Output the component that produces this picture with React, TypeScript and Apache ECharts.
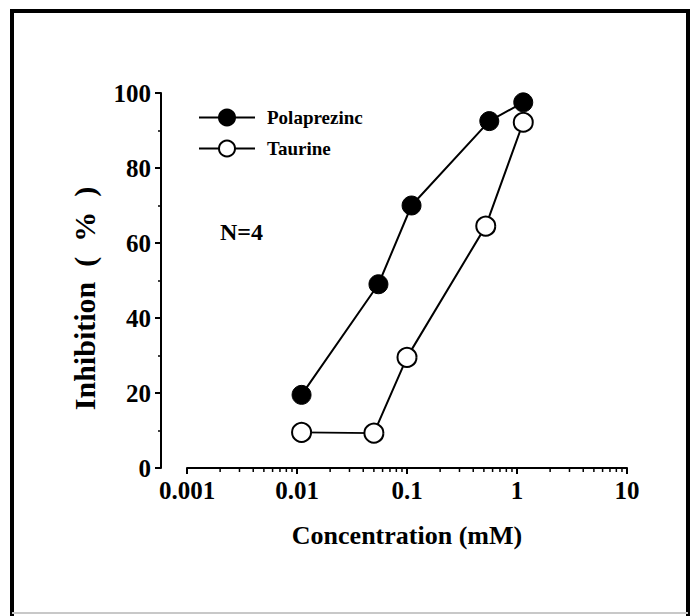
import React, { useEffect, useRef } from "react";
import * as echarts from "echarts";

const polaprezincConc = [0.011, 0.055, 0.11, 0.56, 1.14];
const polaprezincInhibition = [19.5, 49, 70, 92.5, 97.5];
const taurineConc = [0.011, 0.05, 0.1, 0.52, 1.14];
const taurineInhibition = [9.5, 9.3, 29.5, 64.5, 92.2];
const xTickLabels = ["0.001", "0.01", "0.1", "1", "10"];
const decades = [0.001, 0.01, 0.1, 1];
const minorMultipliers = [2, 3, 4, 5, 6, 7, 8, 9];

const FONT = "'Liberation Serif', 'Times New Roman', serif";

export default function App() {
  const ref = useRef<HTMLDivElement>(null);
  useEffect(() => {
    if (!ref.current) return;
    const chart = echarts.init(ref.current, undefined, { renderer: "svg" });
    const minorTicks: number[][] = [];
    decades.forEach((d) => minorMultipliers.forEach((m) => minorTicks.push([d * m, 0])));
    chart.setOption({
      animation: false,
      backgroundColor: "#fff",
      grid: { left: 187, right: 66, top: 93, bottom: 148 },
      legend: {
        orient: "vertical",
        left: 193,
        top: 103,
        itemWidth: 56,
        itemHeight: 20,
        itemGap: 12,
        data: ["Polaprezinc", "Taurine"],
        textStyle: { fontFamily: FONT, fontWeight: "bold", fontSize: 19, color: "#000", padding: [5, 0, 0, 7] },
      },
      xAxis: {
        type: "log",
        logBase: 10,
        min: 0.001,
        max: 10,
        interval: 1,
        name: "Concentration (mM)",
        nameLocation: "middle",
        nameGap: 54,
        nameTextStyle: { fontFamily: FONT, fontWeight: "bold", fontSize: 26, color: "#000" },
        axisLine: { show: true, lineStyle: { color: "#000", width: 2 } },
        axisTick: { show: true, inside: false, length: 6, lineStyle: { color: "#000", width: 2 } },
        axisLabel: {
          margin: 10,
          fontFamily: FONT,
          fontWeight: "bold",
          fontSize: 25,
          color: "#000",
          formatter: (v: number) => xTickLabels[Math.round(Math.log10(v)) + 3],
        },
        splitLine: { show: false },
        minorTick: { show: false },
      },
      yAxis: {
        type: "value",
        min: 0,
        max: 100,
        interval: 20,
        offset: 26,
        name: "Inhibition  (  %  )",
        nameLocation: "middle",
        nameGap: 62,
        nameRotate: 90,
        nameTextStyle: { fontFamily: FONT, fontWeight: "bold", fontSize: 30, color: "#000", padding: [0, 36, 0, 0] },
        axisLine: { show: true, lineStyle: { color: "#000", width: 2 } },
        axisTick: { show: true, inside: false, length: 6, lineStyle: { color: "#000", width: 2 } },
        minorTick: { show: true, splitNumber: 2, length: 3, lineStyle: { color: "#000", width: 1.5 } },
        axisLabel: { margin: 10, fontFamily: FONT, fontWeight: "bold", fontSize: 25, color: "#000" },
        splitLine: { show: false },
      },
      series: [
        {
          name: "Polaprezinc",
          type: "line",
          data: polaprezincConc.map((c, i) => [c, polaprezincInhibition[i]]),
          symbol: "circle",
          symbolSize: 19,
          lineStyle: { color: "#000", width: 2 },
          itemStyle: { color: "#000", borderColor: "#000", borderWidth: 1 },
          z: 3,
        },
        {
          name: "Taurine",
          type: "line",
          data: taurineConc.map((c, i) => [c, taurineInhibition[i]]),
          symbol: "circle",
          symbolSize: 19,
          lineStyle: { color: "#000", width: 2 },
          itemStyle: { color: "#fff", borderColor: "#000", borderWidth: 2 },
          z: 4,
        },
        {
          name: "minorTicks",
          type: "custom",
          silent: true,
          clip: false,
          data: minorTicks,
          renderItem: (params: any, api: any) => {
            const p = api.coord([api.value(0), 0]);
            return {
              type: "line",
              shape: { x1: p[0], y1: p[1], x2: p[0], y2: p[1] + 4 },
              style: { stroke: "#000", lineWidth: 1.5 },
            };
          },
        },
      ],
      graphic: [
        {
          type: "text",
          left: 220,
          top: 220,
          style: { text: "N=4", fontFamily: FONT, fontWeight: "bold", fontSize: 24, fill: "#000" },
        },
        {
          type: "polyline",
          shape: { points: [[12, 616], [12, 11], [688, 11], [688, 616]] },
          style: { stroke: "#000", lineWidth: 4, fill: "none" },
        },
        {
          type: "line",
          shape: { x1: 12, y1: 613, x2: 688, y2: 613 },
          style: { stroke: "#c8c8c8", lineWidth: 2 },
        },
      ],
    });
    return () => chart.dispose();
  }, []);
  return (
    <div
      ref={ref}
      style={{ position: "fixed", left: 0, top: 0, width: 693, height: 616, background: "#fff" }}
    />
  );
}
